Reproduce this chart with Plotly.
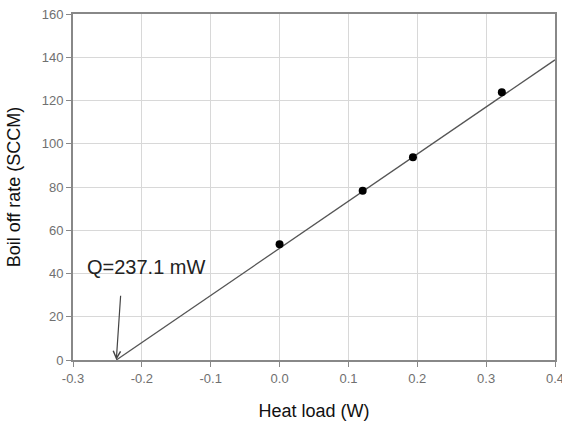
import plotly.graph_objects as go

# Data
heat_load = [0.0, 0.1207, 0.1937, 0.3228]
boil_off = [53.5, 78.3, 93.7, 123.8]

fit_x = [-0.2371, 0.4]
fit_y = [0.0, 138.8]

x_ticks = [-0.3, -0.2, -0.1, 0.0, 0.1, 0.2, 0.3, 0.4]
x_tick_labels = ["-0.3", "-0.2", "-0.1", "0.0", "0.1", "0.2", "0.3", "0.4"]
y_ticks = [0, 20, 40, 60, 80, 100, 120, 140, 160]

annot_text = "Q=237.1 mW"
arrow_tail = (-0.2307, 30.4)
arrow_tip = (-0.2371, 0.0)

fig = go.Figure()
fig.add_trace(go.Scatter(x=fit_x, y=fit_y, mode="lines",
                         line=dict(color="#555555", width=1.3),
                         showlegend=False, hoverinfo="skip"))
fig.add_trace(go.Scatter(x=heat_load, y=boil_off, mode="markers",
                         marker=dict(color="black", size=8),
                         showlegend=False))

fig.add_annotation(x=arrow_tip[0], y=arrow_tip[1], ax=arrow_tail[0], ay=arrow_tail[1],
                   xref="x", yref="y", axref="x", ayref="y",
                   showarrow=True, arrowhead=5, arrowsize=1.2, arrowwidth=1.2,
                   arrowcolor="#444444", text="")
fig.add_annotation(x=-0.2826, y=43, xref="x", yref="y", text=annot_text,
                   showarrow=False, xanchor="left", yanchor="middle",
                   font=dict(family="Liberation Sans, Arial", size=20, color="#222222"))

axis_common = dict(showline=True, mirror=True, linecolor="#888888", linewidth=2,
                   showgrid=True, gridcolor="#d8d8d8", gridwidth=1,
                   ticks="outside", ticklen=5, tickcolor="#888888", tickwidth=1,
                   zeroline=False, ticklabeloverflow="allow", automargin=False,
                   tickfont=dict(family="Liberation Sans, Arial", size=13, color="#707070"))

fig.update_xaxes(range=[-0.3, 0.4], tickvals=x_ticks, ticktext=x_tick_labels,
                 title=dict(text="Heat load (W)", standoff=20,
                            font=dict(family="Liberation Sans, Arial", size=18, color="#111111")),
                 **axis_common)
fig.update_yaxes(range=[0, 160], tickvals=y_ticks,
                 title=dict(text="Boil off rate (SCCM)", standoff=16,
                            font=dict(family="Liberation Sans, Arial", size=18, color="#111111")),
                 **axis_common)

fig.update_layout(width=562, height=423, margin=dict(l=73, r=7, t=14, b=63),
                  plot_bgcolor="white", paper_bgcolor="white")

fig.write_html("out.html")
